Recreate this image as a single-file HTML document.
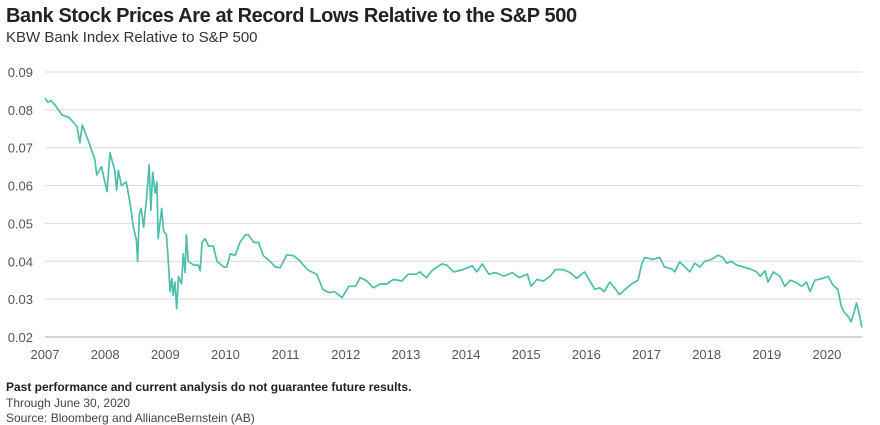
<!DOCTYPE html>
<html><head><meta charset="utf-8"><style>
body{margin:0;width:880px;height:425px;background:#fff;font-family:"Liberation Sans",sans-serif;overflow:hidden;position:relative}
.t{position:absolute;left:6px;white-space:nowrap}
</style></head><body>
<div class="t" style="top:5px;font-size:20px;font-weight:bold;color:#222;letter-spacing:-0.4px">Bank Stock Prices Are at Record Lows Relative to the S&amp;P 500</div>
<div class="t" style="top:29px;font-size:15px;color:#333">KBW Bank Index Relative to S&amp;P 500</div>
<svg id="c" width="880" height="380" style="position:absolute;left:0;top:0"></svg>
<div class="t" style="top:380px;font-size:12px;font-weight:bold;color:#222">Past performance and current analysis do not guarantee future results.</div>
<div class="t" style="top:396px;font-size:12px;color:#444">Through June 30, 2020</div>
<div class="t" style="top:411px;font-size:12px;color:#444">Source: Bloomberg and AllianceBernstein (AB)</div>
<script>
const yTicks=[0.02,0.03,0.04,0.05,0.06,0.07,0.08,0.09];
const xTicks=[2007,2008,2009,2010,2011,2012,2013,2014,2015,2016,2017,2018,2019,2020];
const times=[2007,2007.05,2007.1,2007.18,2007.28,2007.4,2007.53,2007.58,2007.62,2007.74,2007.83,2007.86,2007.94,2008.03,2008.08,2008.16,2008.19,2008.22,2008.27,2008.35,2008.41,2008.47,2008.52,2008.54,2008.57,2008.6,2008.64,2008.69,2008.73,2008.76,2008.79,2008.83,2008.86,2008.88,2008.94,2008.97,2009.02,2009.05,2009.08,2009.11,2009.13,2009.16,2009.19,2009.22,2009.27,2009.3,2009.33,2009.35,2009.38,2009.47,2009.55,2009.58,2009.61,2009.66,2009.72,2009.8,2009.86,2009.97,2010.02,2010.08,2010.16,2010.24,2010.33,2010.38,2010.47,2010.55,2010.63,2010.74,2010.83,2010.91,2011.02,2011.13,2011.24,2011.36,2011.52,2011.62,2011.73,2011.81,2011.94,2012.05,2012.16,2012.24,2012.35,2012.46,2012.57,2012.68,2012.79,2012.93,2013.04,2013.17,2013.23,2013.34,2013.45,2013.6,2013.68,2013.79,2013.93,2014.1,2014.18,2014.27,2014.38,2014.49,2014.63,2014.77,2014.88,2015.02,2015.08,2015.18,2015.29,2015.4,2015.48,2015.62,2015.73,2015.84,2015.97,2016.05,2016.14,2016.22,2016.3,2016.39,2016.47,2016.55,2016.64,2016.75,2016.86,2016.92,2016.97,2017.11,2017.22,2017.3,2017.42,2017.47,2017.55,2017.64,2017.72,2017.8,2017.89,2017.97,2018.08,2018.19,2018.27,2018.33,2018.41,2018.5,2018.61,2018.72,2018.83,2018.89,2018.97,2019.02,2019.11,2019.22,2019.3,2019.39,2019.5,2019.58,2019.66,2019.72,2019.8,2019.91,2020.02,2020.1,2020.18,2020.24,2020.29,2020.35,2020.4,2020.46,2020.49,2020.54,2020.58];
const values=[0.0831,0.082,0.0825,0.081,0.0787,0.078,0.0756,0.0713,0.076,0.071,0.0668,0.0628,0.065,0.0584,0.0686,0.064,0.0588,0.064,0.06,0.061,0.0558,0.049,0.0456,0.04,0.0525,0.054,0.049,0.057,0.0655,0.0535,0.0635,0.058,0.061,0.046,0.054,0.048,0.047,0.04,0.032,0.0355,0.031,0.0345,0.0275,0.036,0.034,0.042,0.037,0.047,0.04,0.039,0.039,0.0375,0.045,0.046,0.044,0.044,0.04,0.0385,0.0385,0.042,0.0415,0.045,0.047,0.047,0.045,0.045,0.0415,0.04,0.0385,0.0383,0.0417,0.0415,0.0401,0.0378,0.0365,0.0325,0.0317,0.032,0.0304,0.0334,0.0334,0.0357,0.0348,0.033,0.034,0.034,0.0352,0.0348,0.0366,0.0366,0.0372,0.0357,0.0378,0.0393,0.039,0.0372,0.0377,0.0388,0.0372,0.0393,0.0366,0.037,0.0361,0.037,0.0357,0.0366,0.0334,0.0352,0.0348,0.0361,0.0378,0.0378,0.037,0.0355,0.0372,0.035,0.0326,0.033,0.032,0.0345,0.033,0.0312,0.0325,0.034,0.035,0.0392,0.041,0.0405,0.041,0.0385,0.038,0.0372,0.0398,0.0385,0.0372,0.0395,0.0385,0.04,0.0405,0.0416,0.041,0.0395,0.04,0.039,0.0385,0.038,0.0372,0.036,0.0375,0.0345,0.0372,0.036,0.0334,0.035,0.0343,0.0334,0.0345,0.032,0.035,0.0354,0.036,0.0337,0.0326,0.028,0.0265,0.0255,0.024,0.027,0.029,0.026,0.0225];
const NS='http://www.w3.org/2000/svg',svg=document.getElementById('c');
const X0=45,X1=862,Y0=337,Y1=72;
const xs=t=>X0+(t-2007)*60.15;
const ys=v=>Y0-(v-0.02)/(0.07)*(Y0-Y1);
function mk(tag,a){const e=document.createElementNS(NS,tag);for(const k in a)e.setAttribute(k,a[k]);svg.appendChild(e);return e;}
yTicks.forEach(v=>{
 const g=mk('line',{x1:X0,x2:X1,y1:ys(v),y2:ys(v),stroke:v===0.02?'#aaa':'#d9d9d9','stroke-width':1});
 
 
 const t=mk('text',{x:33,y:ys(v)+5,'text-anchor':'end','font-size':13,fill:'#555','font-family':'Liberation Sans, sans-serif'});
 t.textContent=v.toFixed(2);
 
 
});
xTicks.forEach(y=>{
 const t=mk('text',{x:xs(y),y:359,'text-anchor':'middle','font-size':13,fill:'#555','font-family':'Liberation Sans, sans-serif'});
 t.textContent=y;
 
 
});
const p=mk('polyline',{points:times.map((t,i)=>xs(t).toFixed(1)+','+ys(values[i]).toFixed(1)).join(' '),fill:'none',stroke:'#4dbfa9','stroke-width':1.7,'stroke-linejoin':'round'});


</script>
</body></html>
